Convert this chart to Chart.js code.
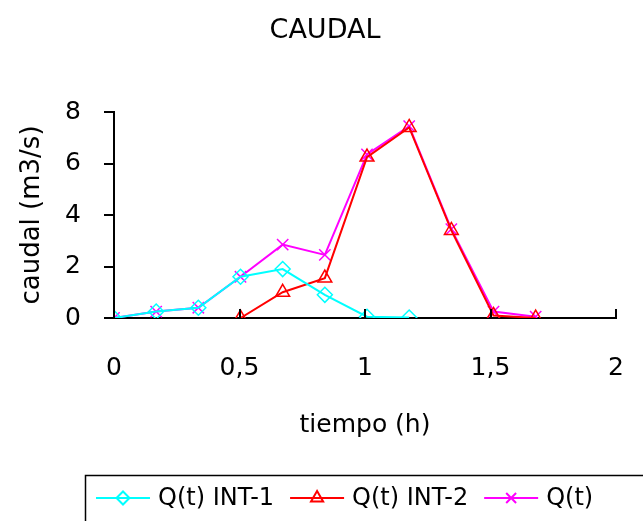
<!DOCTYPE html>
<html>
<head>
<meta charset="utf-8">
<script src="https://cdn.jsdelivr.net/npm/chart.js@4/dist/chart.umd.min.js"></script>
<style>
  html, body { margin: 0; padding: 0; background: #fff; overflow: hidden; }
</style>
</head>
<body>
<canvas id="caudal-chart" width="643" height="521"></canvas>
<script>
  const tiempo = [0, 0.168, 0.336, 0.504, 0.672, 0.84, 1.008, 1.176, 1.344, 1.512, 1.68];
  // INT-1 starts at tiempo[0], INT-2 starts at tiempo[3]
  const qInt1 = [0, 0.25, 0.4, 1.6, 1.9, 0.9, 0.05, 0.02];
  const qInt2 = [0, 1.0, 1.55, 6.25, 7.4, 3.4, 0.1, 0];
  const qTotal = [0, 0.25, 0.4, 1.6, 2.85, 2.45, 6.35, 7.45, 3.45, 0.25, 0.05];
  const seriesLabels = ["Q(t) INT-1", "Q(t) INT-2", "Q(t)"];
  const xTickValues = [0, 0.5, 1, 1.5, 2];
  const yTickValues = [0, 2, 4, 6, 8];

  const FONT = "'DejaVu Sans', sans-serif";

  const toPoints = function (offset, values) {
    return values.map(function (v, i) {
      return { x: tiempo[i + offset], y: v };
    });
  };

  const fmt = function (v) {
    return String(v).replace(".", ",");
  };

  // inward tick marks on the x axis + boxed legend
  const excelBits = {
    id: "excelBits",
    afterLayout: function (chart) {
      // excel centres the title over the page, not the plot
      const tb = chart.titleBlock;
      const shift = 325 - (tb.left + tb.right) / 2;
      tb.left += shift;
      tb.right += shift;
    },
    afterDraw: function (chart) {
      const ctx = chart.ctx;
      const xs = chart.scales.x;
      const ys = chart.scales.y;
      const y0 = ys.getPixelForValue(0);
      ctx.save();
      ctx.strokeStyle = "#000";
      ctx.lineWidth = 2;
      xTickValues.forEach(function (v) {
        const px = Math.round(xs.getPixelForValue(v));
        ctx.beginPath();
        ctx.moveTo(px, y0);
        ctx.lineTo(px, y0 - 9);
        ctx.stroke();
      });

      // legend
      ctx.lineWidth = 1.5;
      ctx.strokeRect(85.5, 475.5, 700, 100);
      ctx.font = "24px " + FONT;
      ctx.textBaseline = "middle";
      let x = 96;
      const ly = 498;
      chart.data.datasets.forEach(function (ds) {
        ctx.strokeStyle = ds.borderColor;
        ctx.lineWidth = 2;
        ctx.beginPath();
        ctx.moveTo(x, ly);
        ctx.lineTo(x + 54, ly);
        ctx.stroke();
        ctx.fillStyle = "rgba(0,0,0,0)";
        Chart.helpers.drawPoint(ctx, {
          pointStyle: ds.pointStyle,
          radius: ds.pointRadius - 1,
          borderWidth: 1.5,
          rotation: 0
        }, x + 27, ly);
        ctx.fillStyle = "#000";
        ctx.fillText(ds.label, x + 62, ly + 1);
        x += 62 + ctx.measureText(ds.label).width + 16;
      });
      ctx.restore();
    }
  };

  const config = {
    type: "line",
    data: {
      datasets: [
        {
          label: seriesLabels[0],
          data: toPoints(0, qInt1),
          borderColor: "#00FFFF",
          backgroundColor: "rgba(0,0,0,0)",
          pointStyle: "rectRot",
          pointRadius: 7.5,
          pointBorderWidth: 1.5,
          borderWidth: 2
        },
        {
          label: seriesLabels[1],
          data: toPoints(3, qInt2),
          borderColor: "#FF0000",
          backgroundColor: "rgba(0,0,0,0)",
          pointStyle: "triangle",
          pointRadius: 8,
          pointBorderWidth: 1.5,
          borderWidth: 2
        },
        {
          label: seriesLabels[2],
          data: toPoints(0, qTotal),
          borderColor: "#FF00FF",
          backgroundColor: "rgba(0,0,0,0)",
          pointStyle: "crossRot",
          pointRadius: 8,
          pointBorderWidth: 1.5,
          borderWidth: 2
        }
      ]
    },
    options: {
      responsive: false,
      animation: false,
      devicePixelRatio: 1,
      layout: { padding: { left: 0, right: 27, top: 0, bottom: 0 } },
      plugins: {
        legend: { display: false },
        tooltip: { enabled: false },
        title: {
          display: true,
          text: "CAUDAL",
          color: "#000",
          font: { family: FONT, size: 27, weight: "normal" },
          padding: { top: 15, bottom: 64.6 }
        }
      },
      scales: {
        x: {
          type: "linear",
          min: 0,
          max: 2,
          afterBuildTicks: function (scale) {
            scale.ticks = xTickValues.map(function (v) { return { value: v }; });
          },
          grid: { display: false },
          border: { display: true, color: "#000", width: 2 },
          ticks: {
            color: "#000",
            padding: 27,
            font: { family: FONT, size: 25 },
            callback: fmt
          },
          title: {
            display: true,
            text: "tiempo (h)",
            color: "#000",
            font: { family: FONT, size: 25 },
            padding: { top: 0, bottom: 81 }
          },
          afterFit: function (scale) {
            scale.height = 203;
            scale.paddingLeft = 0;
            scale.paddingRight = 0;
          }
        },
        y: {
          min: 0,
          max: 8,
          afterBuildTicks: function (scale) {
            scale.ticks = yTickValues.map(function (v) { return { value: v }; });
          },
          grid: {
            drawOnChartArea: false,
            drawTicks: true,
            tickLength: 10,
            color: "#000",
            lineWidth: 2
          },
          border: { display: true, color: "#000", width: 2 },
          ticks: {
            color: "#000",
            padding: 23,
            font: { family: FONT, size: 25 },
            callback: fmt
          },
          title: {
            display: true,
            text: "caudal (m3/s)",
            color: "#000",
            font: { family: FONT, size: 26 },
            padding: { top: 17, bottom: 0 }
          },
          afterFit: function (scale) {
            scale.width = 114;
            scale.paddingTop = 0;
            scale.paddingBottom = 0;
          }
        }
      }
    },
    plugins: [excelBits]
  };

  const caudalChart = new Chart(document.getElementById("caudal-chart"), config);
</script>
</body>
</html>
